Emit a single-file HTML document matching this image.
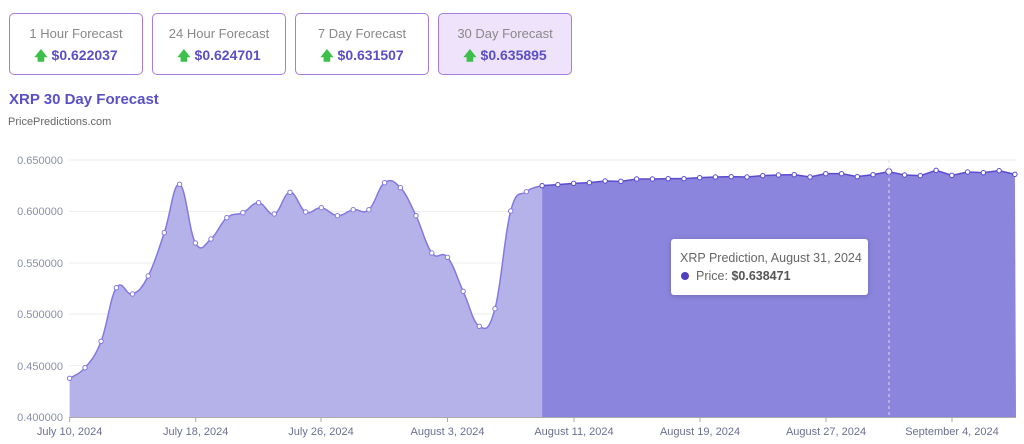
<!DOCTYPE html>
<html><head><meta charset="utf-8"><style>
body{margin:0;width:1024px;height:444px;background:#fff;font-family:"Liberation Sans",Arial,sans-serif;overflow:hidden;position:relative}
.btn{position:absolute;top:13px;width:134px;height:62px;border:1px solid #a77ee0;border-radius:5px;box-sizing:border-box;text-align:center;background:#fff}
.btn .t{color:#888;font-size:13px;margin-top:12px;line-height:16px}
.btn .v{color:#5b4fc4;font-size:14px;font-weight:bold;margin-top:5px;line-height:16px}
.btn .v span{color:#3cc04a;font-size:13px}
h1{position:absolute;left:9px;top:91px;margin:0;font-size:15px;color:#5b4fc4;font-weight:bold}
.sub{position:absolute;left:8px;top:116px;font-size:11px;color:#666}
</style></head><body>
<div class="btn" style="left:9px"><div class="t">1 Hour Forecast</div><div class="v"><span>🡅</span> $0.622037</div></div>
<div class="btn" style="left:152px"><div class="t">24 Hour Forecast</div><div class="v"><span>🡅</span> $0.624701</div></div>
<div class="btn" style="left:295px"><div class="t">7 Day Forecast</div><div class="v"><span>🡅</span> $0.631507</div></div>
<div class="btn" style="left:438px;background:#efe3fb"><div class="t">30 Day Forecast</div><div class="v"><span>🡅</span> $0.635895</div></div>
<h1>XRP 30 Day Forecast</h1>
<div class="sub">PricePredictions.com</div>
<svg id="s" width="1024" height="444" style="position:absolute;left:0;top:0" font-family="Liberation Sans, Arial, sans-serif">
<g stroke="#eee" stroke-width="1">
<line x1="69" x2="1016" y1="160" y2="160"/><line x1="69" x2="1016" y1="211.5" y2="211.5"/><line x1="69" x2="1016" y1="263" y2="263"/><line x1="69" x2="1016" y1="314" y2="314"/><line x1="69" x2="1016" y1="365.5" y2="365.5"/>
</g>
<g fill="#8a8fa8" font-size="11" text-anchor="end">
<text x="63" y="164">0.650000</text><text x="63" y="215">0.600000</text><text x="63" y="267">0.550000</text><text x="63" y="318">0.500000</text><text x="63" y="370">0.450000</text><text x="63" y="421">0.400000</text>
</g>
<g id="series"></g>
<line x1="889" x2="889" y1="160" y2="417" stroke="#ddd" stroke-dasharray="3,3"/>
<line x1="69" x2="1016" y1="417.5" y2="417.5" stroke="#aaa"/>
<g stroke="#aaa"><line x1="69.6" x2="69.6" y1="417" y2="422"/><line x1="195.7" x2="195.7" y1="417" y2="422"/><line x1="321" x2="321" y1="417" y2="422"/><line x1="447.5" x2="447.5" y1="417" y2="422"/><line x1="574" x2="574" y1="417" y2="422"/><line x1="700" x2="700" y1="417" y2="422"/><line x1="826" x2="826" y1="417" y2="422"/><line x1="952" x2="952" y1="417" y2="422"/></g>
<g fill="#6b7090" font-size="11" text-anchor="middle">
<text x="69.6" y="435">July 10, 2024</text><text x="195.7" y="435">July 18, 2024</text><text x="321" y="435">July 26, 2024</text><text x="447.5" y="435">August 3, 2024</text><text x="574" y="435">August 11, 2024</text><text x="700" y="435">August 19, 2024</text><text x="826" y="435">August 27, 2024</text><text x="952" y="435">September 4, 2024</text>
</g>
<rect x="671" y="239" width="197" height="56" rx="3" fill="#fff" style="filter:drop-shadow(0 1px 3px rgba(0,0,0,.2))"/>
<text x="680" y="262" font-size="12.5" fill="#666">XRP Prediction, August 31, 2024</text>
<circle cx="685" cy="276" r="4" fill="#5040c0"/>
<text x="696" y="280" font-size="12.5" fill="#666">Price: <tspan font-weight="bold" fill="#555">$0.638471</tspan></text>
</svg>
<script>
var hx=[69.6,85,101.1,116.4,132.5,148.2,164.3,179.6,195.4,211,226.8,242.9,258.6,274.3,290,305.7,321.4,337.5,353.2,368.9,384.6,400.4,416,431.8,447.5,463.2,479.3,495,510.7,526.4,542.1];
var hy=[378.3,367.7,341.3,287.7,294,276,232.7,184.3,243,239,217.7,212.7,202.7,214,192.3,212,207.7,215.7,209.7,209.7,182.7,187.7,215.7,253,257.3,291.3,326.3,308.7,211,191.7,185.7];
var h=hx.map(function(x,i){return [x,hy[i]]});
var fy=[107,104,100,98,93,94,87,87,86,86,83,81,80,81,77,75,74,81,71,71,80,74,65,75,77,61,76,66,68,62,73];
var f=fy.map(function(y,i){return [542.1+i*15.76,150+y/3]});
function smooth(p){var d="M"+p[0][0]+","+p[0][1];for(var i=0;i<p.length-1;i++){var p0=p[i-1]||p[i],p1=p[i],p2=p[i+1],p3=p[i+2]||p2;var t=0.2;d+=" C"+(p1[0]+(p2[0]-p0[0])*t)+","+(p1[1]+(p2[1]-p0[1])*t)+" "+(p2[0]-(p3[0]-p1[0])*t)+","+(p2[1]-(p3[1]-p1[1])*t)+" "+p2[0]+","+p2[1];}return d;}
function lin(p){return "M"+p.map(function(q){return q[0]+","+q[1]}).join(" L");}
var g="";
var hd=smooth(h);
g+='<path d="'+hd+' L542.1,417 L69.6,417 Z" fill="#b5b2ea"/>';
var fd=lin(f);
g+='<path d="'+fd+' L1016,417 L542.1,417 Z" fill="#8b85de"/>';
g+='<path d="'+hd+'" fill="none" stroke="#8479dc" stroke-width="1.5"/>';
g+='<path d="'+fd+'" fill="none" stroke="#5a4ccc" stroke-width="1.5"/>';
h.forEach(function(q){g+='<circle cx="'+q[0]+'" cy="'+q[1]+'" r="2.2" fill="#fff" stroke="#8479dc" stroke-width="1"/>'});
f.forEach(function(q,i){g+='<circle cx="'+q[0]+'" cy="'+q[1]+'" r="'+(i==22?3:2.2)+'" fill="#fff" stroke="#5a4ccc" stroke-width="1"/>'});
document.getElementById("series").innerHTML=g;
</script>
</body></html>
